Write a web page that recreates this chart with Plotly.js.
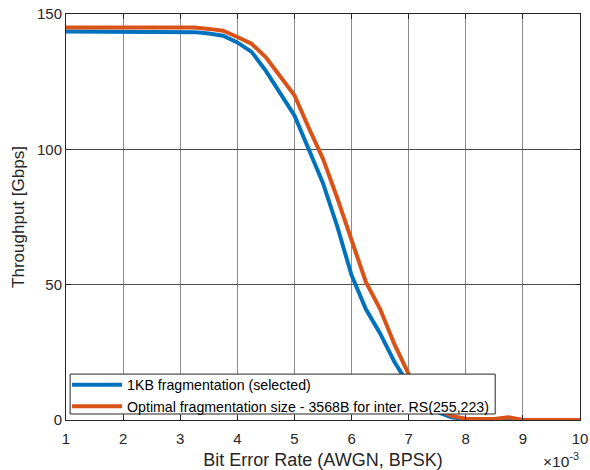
<!DOCTYPE html>
<html>
<head>
<meta charset="utf-8">
<script src="https://cdn.plot.ly/plotly-3.0.1.min.js"></script>
<style>html,body{margin:0;padding:0;background:#fff;}#chart{width:590px;height:470px;}</style>
</head>
<body>
<div id="chart"></div>
<script>
const berX = [1,1.25,1.5,1.75,2,2.25,2.5,2.75,3,3.25,3.5,3.75,4,4.25,4.5,4.75,5,5.25,5.5,5.75,6,6.25,6.5,6.75,7,7.25,7.5,7.75,8,8.25,8.5,8.75,9,9.25,9.5,9.75,10];
const throughput1KB = [143.5,143.5,143.5,143.5,143.5,143.5,143.5,143.5,143.5,143.3,142.8,142,139.5,136,129,121,112.5,100,87.5,71.5,53.5,41,32,21.5,13,7,3,1,0.3,0,0,0,0,0,0,0,0];
const throughputOpt = [145,145,145,145,145,145,145,145,145,145,144.5,143.8,141.5,139,134,127,120,108,96.5,82,66,51,41,28,17,9,4,1.5,0.5,0.3,0.4,1.0,0,0,0,0,0];
const seriesNames = ["1KB fragmentation (selected)", "Optimal fragmentation size - 3568B for inter. RS(255,223)"];
const xTicks = [1,2,3,4,5,6,7,8,9,10];
const yTicks = [0,50,100,150];

const font = "Liberation Sans, Arial, sans-serif";
const traces = [
  {x: berX, y: throughput1KB, name: seriesNames[0], type: "scatter", mode: "lines",
   line: {color: "#0072BD", width: 4}},
  {x: berX, y: throughputOpt, name: seriesNames[1], type: "scatter", mode: "lines",
   line: {color: "#D95319", width: 4}}
];
const layout = {
  width: 590, height: 470,
  margin: {l: 66, r: 10, t: 14, b: 50, pad: 0},
  paper_bgcolor: "#fff", plot_bgcolor: "#fff",
  font: {family: font, size: 14, color: "#262626"},
  showlegend: true,
  legend: {x: 0.002, y: -0.005, xanchor: "left", yanchor: "bottom",
    bgcolor: "rgba(0,0,0,0)", borderwidth: 0,
    font: {family: font, size: 14.2, color: "#000"}, itemwidth: 50,
    tracegroupgap: 0},
  shapes: [{type: "rect", xref: "paper", yref: "paper", layer: "above",
    x0: 0.008, x1: 0.835, y0: 0.0148, y1: 0.113,
    fillcolor: "#fff", line: {color: "#262626", width: 1}}],
  xaxis: {range: [1, 10], tickvals: xTicks, ticktext: xTicks.map(String),
    showgrid: true, gridcolor: "#8c8c8c", gridwidth: 1, zeroline: false,
    showline: true, linecolor: "#262626", linewidth: 1, mirror: "ticks",
    ticks: "inside", ticklen: 5, tickcolor: "#262626", ticklabelstandoff: 5,
    tickfont: {size: 15, family: font, color: "#262626"},
    title: {text: "Bit Error Rate (AWGN, BPSK)", font: {size: 18, family: font, color: "#262626"}, standoff: 7}},
  yaxis: {range: [0, 150], tickvals: yTicks, ticktext: yTicks.map(String),
    showgrid: true, gridcolor: "#4d4d4d", gridwidth: 1, zeroline: false,
    showline: true, linecolor: "#262626", linewidth: 1, mirror: "ticks",
    ticks: "inside", ticklen: 5, tickcolor: "#262626",
    tickfont: {size: 15, family: font, color: "#262626"},
    title: {text: "Throughput [Gbps]", font: {size: 17, family: font, color: "#262626"}, standoff: 8}},
  annotations: [{xref: "paper", yref: "paper", x: 1.0, y: -0.072, xanchor: "right", yanchor: "top",
    text: "×10<sup>-3</sup>", showarrow: false, borderpad: 0, font: {size: 15.5, family: font, color: "#262626"}}]
};
Plotly.newPlot("chart", traces, layout, {displayModeBar: false, staticPlot: true});
</script>
</body>
</html>
